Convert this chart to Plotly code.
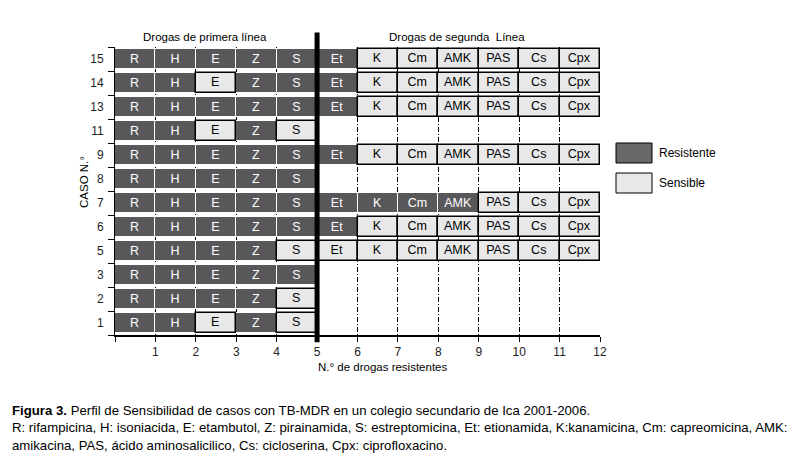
import plotly.graph_objects as go

# ---- data ----
cases = ["15", "14", "13", "11", "9", "8", "7", "6", "5", "3", "2", "1"]
drugs = ["R", "H", "E", "Z", "S", "Et", "K", "Cm", "AMK", "PAS", "Cs", "Cpx"]
# per case: R = resistente, S = sensible, - = no evaluado
profiles = {
    "15": "RRRRRRSSSSSS",
    "14": "RRSRRRSSSSSS",
    "13": "RRRRRRSSSSSS",
    "11": "RRSRS-------",
    "9":  "RRRRRRSSSSSS",
    "8":  "RRRRR-------",
    "7":  "RRRRRRRRRSSS",
    "6":  "RRRRRRSSSSSS",
    "5":  "RRRRSSSSSSSS",
    "3":  "RRRRR-------",
    "2":  "RRRRS-------",
    "1":  "RRSRS-------",
}
x_ticks = list(range(0, 13))
x_labels = [""] + [str(v) for v in range(1, 13)]

DARK = "#58585a"
LIGHT = "#e8e8e8"
FONT = "Liberation Sans, Arial, sans-serif"
TICKC = "#222222"

# row positions: case 1 at bottom
ypos = {c: len(cases) - 1 - i for i, c in enumerate(cases)}

def collect(flag):
    ys, bases, texts = [], [], []
    for c in cases:
        for j, s in enumerate(profiles[c]):
            if s == flag:
                ys.append(ypos[c])
                bases.append(j)
                texts.append(drugs[j])
    return ys, bases, texts

fig = go.Figure()
for flag, name, col, lcol, lw, tcol in [("R", "Resistente", DARK, "#ffffff", 1.0, "#ffffff"),
                                          ("S", "Sensible", LIGHT, "#000000", 1.5, "#000000")]:
    ys, bases, texts = collect(flag)
    fig.add_trace(go.Bar(
        y=ys, x=[1] * len(ys), base=bases, orientation="h", name=name,
        width=0.82, text=texts, textposition="inside", insidetextanchor="middle",
        textangle=0, constraintext="none",
        textfont=dict(family=FONT, size=12.5, color=tcol),
        marker=dict(color=col, line=dict(color=lcol, width=lw)),
        showlegend=False, hoverinfo="skip",
    ))

# page body has an 8px margin: figure is 790x455, drawn from (8,8)
OFF = 8
W, H = 790, 455
L, R, T, B = 107, 198, 39, 128
fig.update_layout(
    width=W, height=H,
    margin=dict(l=L, r=R, t=T, b=B),
    paper_bgcolor="white", plot_bgcolor="white",
    barmode="overlay", bargap=0,
    font=dict(family=FONT, size=12, color="#000"),
    xaxis=dict(range=[0, 12], tickvals=x_ticks, ticktext=x_labels,
               showgrid=True, gridcolor="#000", griddash="5px,2px,1px,2px", gridwidth=1,
               ticks="outside", ticklen=5, tickcolor="#000",
               showline=True, linecolor="#000", linewidth=1.5, zeroline=False,
               tickfont=dict(size=12, color=TICKC)),
    yaxis=dict(range=[-0.5, len(cases) - 0.5],
               tickvals=[ypos[c] for c in cases], ticktext=cases,
               ticks="", showgrid=False, zeroline=False,
               showline=True, linecolor="#000", linewidth=1,
               ticklabelstandoff=8,
               tickfont=dict(size=12, color=TICKC),
               minor=dict(tickmode="linear", tick0=0.5, dtick=1, ticks="outside",
                          ticklen=6, tickcolor="#000", showgrid=False)),
)

# thick separator between first and second line drugs
fig.add_shape(type="line", xref="x", yref="paper", x0=5, x1=5, y0=-0.025, y1=1.05,
              line=dict(color="#000", width=5))

PW, PH = W - L - R, H - T - B
def px(xp): return (xp - OFF - L) / PW
def py(yp): return (H - B - (yp - OFF)) / PH

# group headers
fig.add_annotation(x=2.23, y=py(37), xref="x", yref="paper", text="Drogas de primera línea",
                   showarrow=False, font=dict(size=11.5), xanchor="center", yanchor="middle")
fig.add_annotation(x=8.47, y=py(37), xref="x", yref="paper", text="Drogas de segunda  Línea",
                   showarrow=False, font=dict(size=11.5), xanchor="center", yanchor="middle")

# axis titles
fig.add_annotation(x=px(382), y=py(367), xref="paper", yref="paper",
                   text="N.° de drogas resistentes", showarrow=False, font=dict(size=11.5),
                   xanchor="center", yanchor="middle")
fig.add_annotation(x=px(84), y=py(182), xref="paper", yref="paper", textangle=-90,
                   text="CASO N.°", showarrow=False, font=dict(size=11.5),
                   xanchor="center", yanchor="middle")

# legend
for (y0, y1, col, lab) in [(143, 163, "#6a6866", "Resistente"), (173, 193, LIGHT, "Sensible")]:
    fig.add_shape(type="rect", xref="paper", yref="paper", x0=px(616), x1=px(652),
                  y0=py(y1), y1=py(y0), fillcolor=col, line=dict(color="#000", width=1))
    fig.add_annotation(x=px(657), y=py((y0 + y1) / 2), xref="paper", yref="paper",
                       text=lab, showarrow=False, xanchor="left", yanchor="middle",
                       font=dict(size=12))

# caption
caption = [
    "<b>Figura 3.</b> Perfil de Sensibilidad de casos con TB-MDR en un colegio secundario de Ica 2001-2006.",
    "R: rifampicina, H: isoniacida, E: etambutol, Z: pirainamida, S: estreptomicina, Et: etionamida, K:kanamicina, Cm: capreomicina, AMK:",
    "amikacina, PAS, ácido aminosalicilico, Cs: cicloserina, Cpx: ciprofloxacino.",
]
for k, line in enumerate(caption):
    fig.add_annotation(x=px(10), y=py(410 + 17.5 * k), xref="paper", yref="paper",
                       text=line, showarrow=False, xanchor="left", yanchor="middle",
                       font=dict(size=13.2))

fig.write_html("out.html")
